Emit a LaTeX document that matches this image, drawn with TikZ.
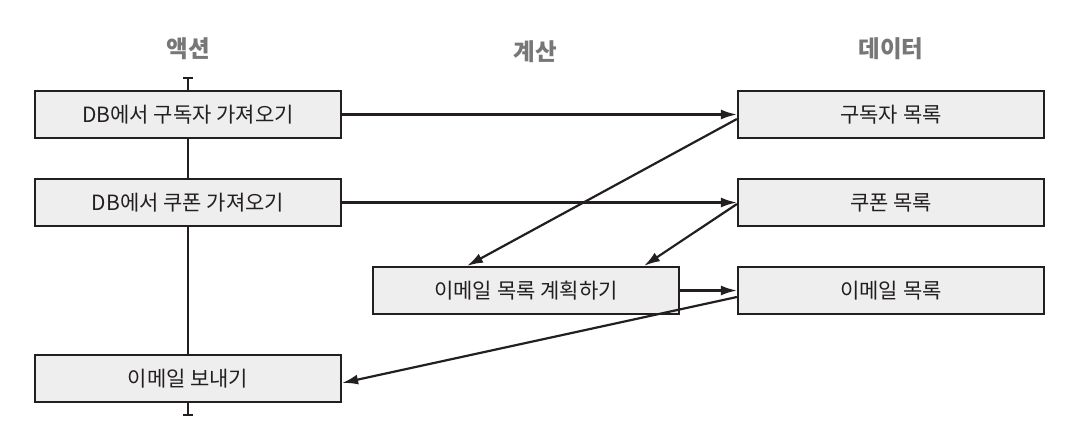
\documentclass[tikz,border=0pt]{standalone}
\usepackage{fontspec}
\setmainfont{Noto Sans CJK KR}
\usepackage{xcolor}
\usetikzlibrary{arrows.meta}
\definecolor{inkdark}{HTML}{231F20}
\definecolor{boxgray}{HTML}{EEEEEE}
\definecolor{headgray}{HTML}{777777}
\tikzset{
  flowbox/.style={draw=inkdark, fill=boxgray, line width=2.2pt, minimum width=306pt, minimum height=47pt, inner sep=0pt, font=\fontsize{21}{24}\selectfont, text=inkdark},
  colhead/.style={font=\bfseries\fontsize{23.5}{27}\selectfont, text=headgray},
  flow/.style={draw=inkdark, line width=2.2pt, -{Latex[length=16pt,width=10pt]}}
}

\begin{document}
\begin{tikzpicture}[x=1pt,y=-1pt]
\useasboundingbox (0,0) rectangle (1072,424);
\node[colhead] (hact) at (188,49) {액션};
\node[colhead] (hcalc) at (535,52) {계산};
\node[colhead] (hdata) at (891,49) {데이터};

\coordinate (ttop) at (188,78);
\coordinate (tbot) at (188,415);
\draw[inkdark, line width=2.2pt] (ttop) -- (tbot);
\draw[inkdark, line width=2.2pt] ([xshift=-5pt]ttop) -- ([xshift=5pt]ttop);
\draw[inkdark, line width=2.2pt] ([xshift=-5pt]tbot) -- ([xshift=5pt]tbot);

\node[flowbox] (getsub) at (188,114.5) {DB에서 구독자 가져오기};
\node[flowbox] (getcpn) at (188,202.5) {DB에서 쿠폰 가져오기};
\node[flowbox] (send) at (188,378.5) {이메일 보내기};
\node[flowbox] (plan) at (526,290.5) {이메일 목록 계획하기};
\node[flowbox] (sublist) at (891,114.5) {구독자 목록};
\node[flowbox] (cpnlist) at (891,202.5) {쿠폰 목록};
\node[flowbox] (maillist) at (891,290.5) {이메일 목록};

\draw[flow] (getsub.east) -- (sublist.west);
\draw[flow] (getcpn.east) -- (cpnlist.west);
\draw[flow] ([yshift=-4.5pt]sublist.west) -- ([xshift=-59pt]plan.north);
\draw[flow] ([yshift=-1.5pt]cpnlist.west) -- ([xshift=118pt]plan.north);
\draw[flow] (plan.east) -- (maillist.west);
\draw[flow] ([yshift=-6.5pt]maillist.west) -- ([yshift=-4.5pt]send.east);
\end{tikzpicture}
\end{document}
